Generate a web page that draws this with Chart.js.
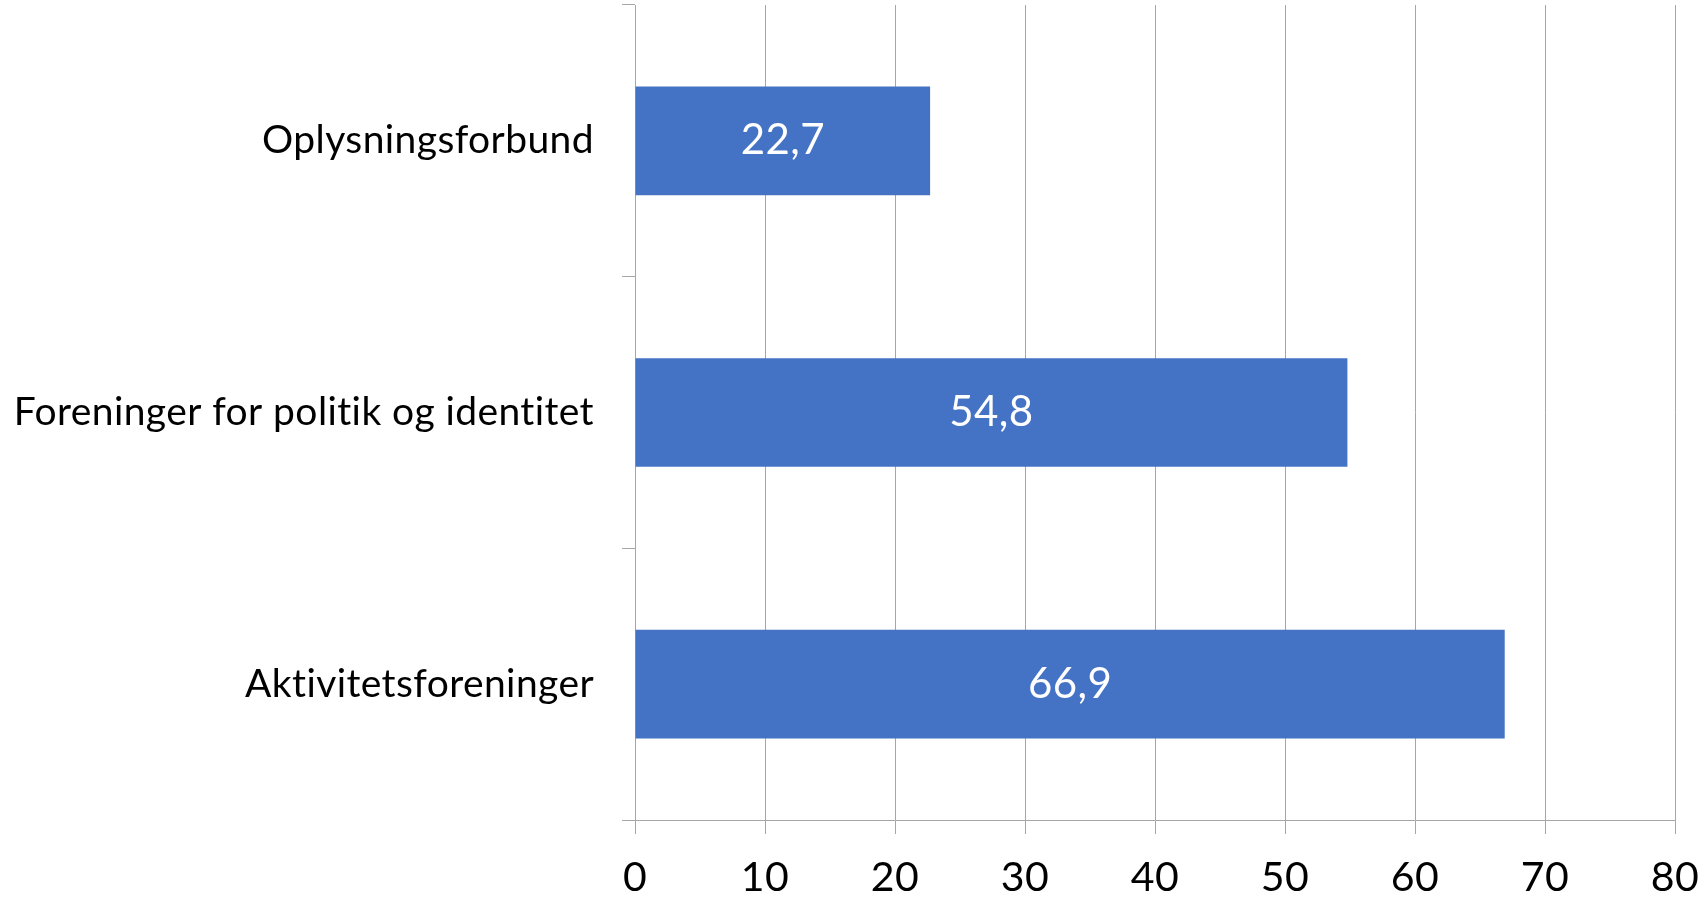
<!DOCTYPE html>
<html>
<head>
<meta charset="utf-8">
<script src="https://cdn.jsdelivr.net/npm/chart.js@4/dist/chart.umd.min.js"></script>
<style>
    html, body { margin: 0; padding: 0; background: #fff; }
    #wrap { width: 1708px; height: 901px; }
</style>
</head>
<body>
<div id="wrap"><canvas id="chart" width="1708" height="901"></canvas></div>
<script>
const categories = ['Oplysningsforbund', 'Foreninger for politik og identitet', 'Aktivitetsforeninger'];
const values = [22.7, 54.8, 66.9];
const xMin = 0;
const xMax = 80;
const xStep = 10;

const FONT = 'Lato, "Open Sans", sans-serif';
const GRID = '#a6a6a6';

// a little letter spacing turns off Lato's "ti" ligature
const spacing = {
    id: 'spacing',
    beforeDraw(chart) {
        chart.ctx.letterSpacing = '0.4px';
    }
};

// white value labels in the middle of each bar
const barLabels = {
    id: 'barLabels',
    afterDatasetsDraw(chart) {
        const ctx = chart.ctx;
        const meta = chart.getDatasetMeta(0);
        ctx.save();
        ctx.fillStyle = '#ffffff';
        ctx.font = '42px ' + FONT;
        ctx.textAlign = 'center';
        ctx.textBaseline = 'middle';
        meta.data.forEach((bar, i) => {
            const v = chart.data.datasets[0].data[i];
            const x = (bar.base + bar.x) / 2;
            ctx.fillText(String(v).replace('.', ','), x, bar.y);
        });
        ctx.restore();
    }
};

new Chart(document.getElementById('chart').getContext('2d'), {
    type: 'bar',
    data: {
        labels: categories,
        datasets: [{
            data: values,
            backgroundColor: '#4472c4',
            borderWidth: 0,
            categoryPercentage: 1,
            barPercentage: 0.4,
        }]
    },
    options: {
        indexAxis: 'y',
        responsive: false,
        animation: false,
        layout: {
            padding: { top: 5, right: 33, left: 0, bottom: 0 }
        },
        plugins: {
            legend: { display: false },
            tooltip: { enabled: false }
        },
        scales: {
            x: {
                min: xMin,
                max: xMax,
                ticks: {
                    stepSize: xStep,
                    color: '#000000',
                    font: { family: FONT, size: 41 },
                    padding: 19,
                },
                grid: {
                    color: GRID,
                    lineWidth: 1,
                    tickLength: 14,
                },
                border: { color: GRID, width: 1 },
                afterFit(scale) {
                    scale.height = 81;
                    scale.paddingLeft = 0;
                    scale.paddingRight = 0;
                }
            },
            y: {
                ticks: {
                    color: '#000000',
                    font: { family: FONT, size: 39 },
                    padding: 28,
                },
                grid: {
                    offset: true,
                    drawOnChartArea: false,
                    color: GRID,
                    lineWidth: 1,
                    tickLength: 13,
                },
                border: { color: GRID, width: 1 },
                afterFit(scale) {
                    scale.width = 635;
                    scale.paddingTop = 0;
                    scale.paddingBottom = 0;
                }
            }
        }
    },
    plugins: [spacing, barLabels]
});
</script>
</body>
</html>
